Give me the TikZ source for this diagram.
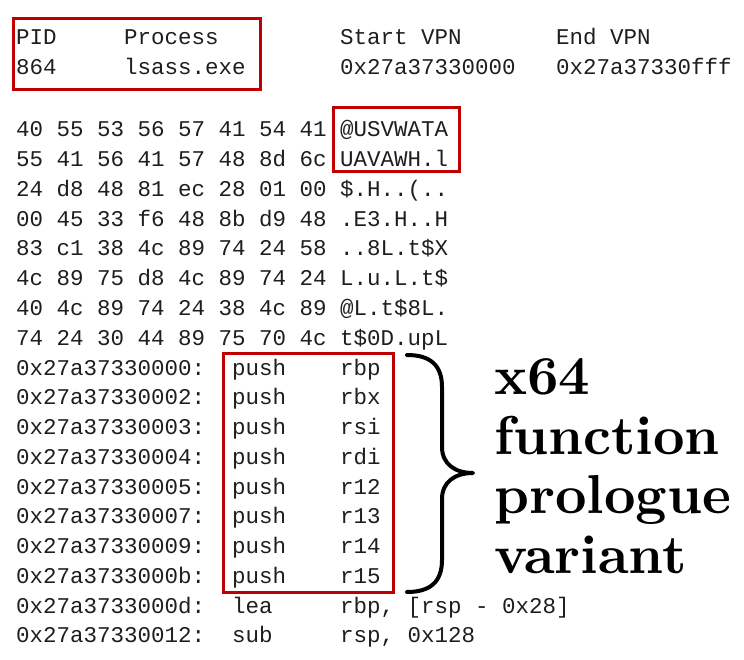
\documentclass[tikz,border=0pt]{standalone}
\usepackage{fontspec}
\newfontfamily\codefont{Liberation Mono}
\newfontfamily\labelfont{lmroman10-bold.otf}
\newcommand\mycodefont{\codefont\fontsize{22.5}{25}\selectfont}
\newcommand\mylabelfont{\labelfont\fontsize{54.8}{60}\selectfont}
\definecolor{boxred}{RGB}{192,0,0}
\definecolor{ink}{RGB}{30,30,30}
\tikzset{
  codetext/.style={anchor=base west, inner sep=0pt, text=ink, font=\mycodefont},
  bigtext/.style={anchor=base west, inner sep=0pt, text=black, font=\mylabelfont},
  redbox/.style={draw=boxred, line width=3pt},
  bracestyle/.style={draw=black, line width=4pt, line cap=round, line join=round}
}
\begin{document}
\begin{tikzpicture}[x=1pt,y=-1pt]
\useasboundingbox (0,0) rectangle (744,660);
% header
\node[codetext] (hpid) at (16,45) {PID};
\node[codetext] (hproc) at (124,45) {Process};
\node[codetext] (hstart) at (340,45) {Start VPN};
\node[codetext] (hend) at (556,45) {End VPN};
\node[codetext] (vpid) at (16,75) {864};
\node[codetext] (vproc) at (124,75) {lsass.exe};
\node[codetext] (vstart) at (340,75) {0x27a37330000};
\node[codetext] (vend) at (556,75) {0x27a37330fff};
% hex dump
\node[codetext] (x1) at (16,137) {40 55 53 56 57 41 54 41};
\node[codetext] (a1) at (340,137) {@USVWATA};
\node[codetext] (x2) at (16,166.75) {55 41 56 41 57 48 8d 6c};
\node[codetext] (a2) at (340,166.75) {UAVAWH.l};
\node[codetext] (x3) at (16,196.5) {24 d8 48 81 ec 28 01 00};
\node[codetext] (a3) at (340,196.5) {\$.H..(..};
\node[codetext] (x4) at (16,226.25) {00 45 33 f6 48 8b d9 48};
\node[codetext] (a4) at (340,226.25) {.E3.H..H};
\node[codetext] (x5) at (16,256) {83 c1 38 4c 89 74 24 58};
\node[codetext] (a5) at (340,256) {..8L.t\$X};
\node[codetext] (x6) at (16,285.75) {4c 89 75 d8 4c 89 74 24};
\node[codetext] (a6) at (340,285.75) {L.u.L.t\$};
\node[codetext] (x7) at (16,315.5) {40 4c 89 74 24 38 4c 89};
\node[codetext] (a7) at (340,315.5) {@L.t\$8L.};
\node[codetext] (x8) at (16,345.25) {74 24 30 44 89 75 70 4c};
\node[codetext] (a8) at (340,345.25) {t\$0D.upL};
% disassembly
\foreach \i/\addr/\mn/\op in {
  0/0x27a37330000:/push/rbp,
  1/0x27a37330002:/push/rbx,
  2/0x27a37330003:/push/rsi,
  3/0x27a37330004:/push/rdi,
  4/0x27a37330005:/push/r12,
  5/0x27a37330007:/push/r13,
  6/0x27a37330009:/push/r14,
  7/0x27a3733000b:/push/r15,
  8/0x27a3733000d:/lea/{rbp, [rsp - 0x28]},
  9/0x27a37330012:/sub/{rsp, 0x128}}{
  \node[codetext] (d\i) at (16,375+29.75*\i) {\addr};
  \node[codetext] (m\i) at (232,375+29.75*\i) {\mn};
  \node[codetext] (o\i) at (340,375+29.75*\i) {\op};
}
% red boxes
\draw[redbox] (13,19) rectangle (260,90);
\draw[redbox] (333,108) rectangle (459,172);
\draw[redbox] (223,353) rectangle (393,592);
% brace
\draw[bracestyle] (407,355) .. controls (430,355) and (442,365) .. (442,387)
  -- (442,447) .. controls (442,464) and (455,473) .. (473,473)
  .. controls (455,473) and (442,482) .. (442,499)
  -- (442,560) .. controls (442,582) and (430,592) .. (407,592);
% label
\node[bigtext] (l1) at (494,394.5) {x64};
\node[bigtext] (l2) at (494,454) {function};
\node[bigtext] (l3) at (494,513.5) {prologue};
\node[bigtext] (l4) at (494,573) {variant};
\end{tikzpicture}
\end{document}
